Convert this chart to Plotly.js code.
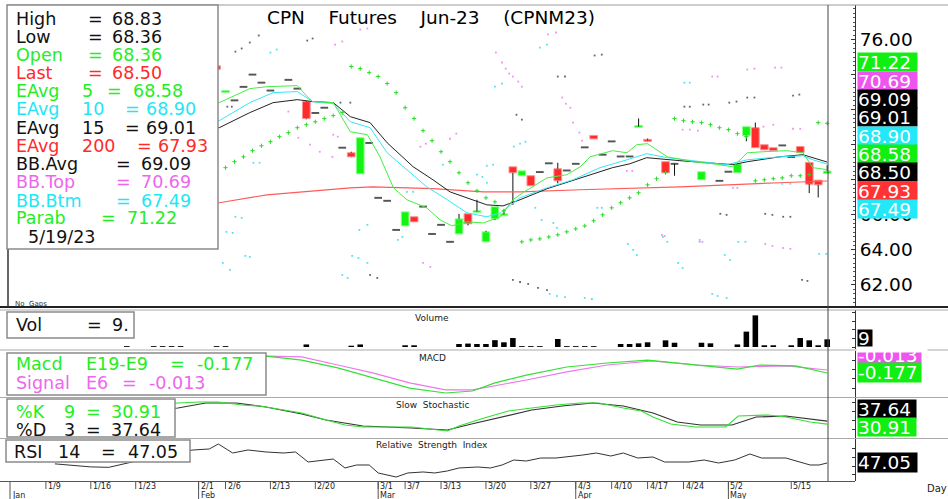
<!DOCTYPE html>
<html><head><meta charset="utf-8">
<script src="https://cdn.plot.ly/plotly-3.0.1.min.js"></script>
<style>html,body{margin:0;padding:0;background:#fff}#chart{width:948px;height:499px}</style>
</head><body><div id="chart"></div>
<script>
// ---------------- DATA (bar index k: 0 = 1/3/23 ... 91 = 5/19/23) ----------------
const tickIdx  = [4,9,14,21,24,29,34,41,44,48,53,58,63,67,71,75,80,87];
const tickText = ['1/9','1/16','1/23','2/1','2/6','2/13','2/20','3/1','3/7','3/13','3/20','3/27','4/3','4/10','4/17','4/24','5/2','5/15'];
const monthIdx = [0,21,41,63,80];
const monthText = ['Jan','Feb','Mar','Apr','May'];
const lastDate = '5/19/23';
const priceTicks = [62,64,66,68,70,72,74,76];
const priceTickText = ['62.00','64.00','66.00','','','','','76.00'];

const pre = Array(23).fill(null);
const O = pre.concat([74.5,73.0,72.53,73.3,74.0,73.54,73.09,null,73.7,73.2,
 72.46,71.81,72.11,null,69.83,69.54,68.34,70.1,66.97,66.8,
 65.14,65.37,65.89,66.47,64.91,65.43,64.46,64.91,66.06,66.17,
 64.46,65.77,65.97,68.74,68.23,68.23,68.44,68.94,68.63,68.53,
 68.91,69.85,70.53,69.43,70.19,69.33,69.33,71.03,70.28,null,
 69.03,68.91,null,null,68.0,null,67.94,68.46,68.4,70.51,
 70.97,70.0,69.83,69.96,69.3,69.9,68.99,67.98,68.36]);
const Hh = pre.concat([74.5,73.06,72.53,73.3,74.0,73.54,73.09,null,73.7,73.2,
 72.5,71.81,72.11,null,69.83,69.6,70.4,70.1,66.97,66.8,
 65.14,66.17,65.89,66.47,64.91,65.43,64.46,66.06,66.06,66.86,
 65.09,66.46,66.29,68.74,68.51,68.23,68.44,68.94,68.97,68.53,
 68.91,69.85,70.53,69.43,70.19,69.33,69.33,71.5,70.35,null,
 69.03,68.91,null,null,68.46,null,67.94,68.46,68.91,71.03,
 71.26,70.0,69.83,69.96,69.3,69.9,68.99,67.98,68.83]);
const Ll = pre.concat([74.3,73.0,72.53,73.3,74.0,73.54,73.09,null,73.7,73.2,
 71.45,71.81,72.11,null,69.83,69.29,68.34,70.1,66.97,66.8,
 65.14,65.37,65.6,66.47,64.91,65.43,64.46,64.91,65.4,66.17,
 64.46,65.7,65.97,66.57,68.23,67.66,68.44,68.94,67.8,68.53,
 68.91,69.85,70.33,69.43,70.19,69.33,69.33,71.03,70.2,null,
 68.4,68.23,null,null,68.0,null,67.94,68.46,68.4,70.2,
 69.83,69.71,69.66,69.96,69.3,69.56,67.24,66.99,68.36]);
const Cc = pre.concat([74.3,73.06,72.53,73.3,74.0,73.54,73.09,null,73.7,73.2,
 71.49,71.81,72.11,null,69.83,69.31,70.4,70.1,66.97,66.8,
 65.14,66.17,65.6,66.47,64.91,65.43,64.46,65.77,65.49,66.2,
 65.03,66.46,66.03,68.4,68.51,67.66,68.44,68.94,67.94,68.53,
 68.91,69.85,70.33,69.43,70.19,69.33,69.33,71.05,70.22,null,
 68.4,68.91,null,null,68.46,null,67.94,68.46,68.91,71.03,
 69.83,69.71,69.66,69.96,69.3,69.56,67.75,67.71,68.50]);

const volume = [0,0,0,0,0,0,0,0,0,0, 0,0,0,1,0,0,1,1,1,1, 0,0,0,1,1,0,0,0,0,0,
 0,0,0,3,0,0,0,0,1.5,3, 0,0,0,0,2,2,0,0,0,0, 3.5,4,3.5,3.5,8,5.5,10.5,1,1,1,
 0,9.4,1,1,1,1,0,0,3.5,3.5, 4.3,5.5,0,7.8,5,0,0,5,4.3,0, 0,3,18,37,2,2,0,2,10.5,7.8, 2,9];

// moving averages (k, value)
const ema5K = [0,23.3,26.7,28.6,32,33.1,33.7,36,37.9,39.8,41.2,42.7,44.2,46.4,47.9,49.2,50.9,52.7,54.6,56,57.1,59.8,62,63.5,64.6,67.1,68.7,69.8,71,73.2,76.1,78.3,80.5,82.1,83.9,86.5,88.3,89.4,91];
const ema5V = [73.0,72.4,73.2,73.31,73.37,72.74,72.46,72.4,70.74,70.57,69.31,67.54,66.86,66.4,65.71,65.37,65.6,65.54,65.89,66.86,67.26,68.11,68.29,68.74,69.31,69.66,69.54,70.0,70.06,69.31,69.03,68.91,68.74,69.54,69.6,69.66,69.54,68.69,68.58];
const ema10K = [0,23.3,26.7,29.3,32,33.7,36,37.9,40.1,42,44.2,46.4,48.7,50.9,53.1,54.6,56.8,59.8,62.7,65.7,68.7,70.9,73.2,76.1,79.8,82.1,85.7,88.3,89.4,91];
const ema10V = [72.6,71.37,72.4,72.97,73.03,72.46,72.34,71.31,70.97,69.54,68.57,67.6,66.86,66.11,65.89,66.11,66.97,67.54,68.0,68.69,69.14,69.49,69.26,69.09,68.86,69.14,69.31,69.37,69.14,68.90];
const ema15K = [0,23.3,26.7,29.3,32,33.7,36,37.9,40.1,42,44.9,47.1,49,51.6,53.1,54.9,56.8,59.8,63.5,67.1,69,70.9,74.6,78.3,80.5,82.1,85.7,88.3,89.4,91];
const ema15V = [72.2,70.97,71.83,72.4,72.57,72.46,72.4,71.6,71.26,70.11,68.74,68.0,67.31,66.86,66.57,66.51,66.86,67.49,68.11,68.69,68.91,69.26,69.09,68.97,68.86,69.03,69.31,69.43,69.26,69.01];
const ema200K = [0,23.3,28.6,32.3,37.9,40.4,47.1,52.7,56.8,63.5,74.6,85.7,91];
const ema200V = [66.0,66.69,67.14,67.31,67.54,67.6,67.49,67.31,67.31,67.43,67.6,67.83,67.93];

// Parabolic SAR (k, value)
const sarK = [24,25,26,27,28,29,30,31,32,33,34,35,36,37, 38,39,40,41,42,43,44,45,46,47,48,49,50,51,52,53,54,55,
 57,58,59,60,61,62,63,64,65,66,67,68,69,70,71,72,73, 74,75,76,77,78,79,80,81,82, 83,84,85,86,87,88,89, 90,91];
const sarV = [68.69,69.03,69.31,69.66,69.94,70.17,70.46,70.69,70.97,71.14,71.31,71.49,71.66,71.83,
 74.46,74.34,74.11,73.89,73.49,72.97,72.11,71.49,70.8,70.23,69.6,69.03,68.4,67.83,67.37,66.97,66.74,66.23,
 64.46,64.57,64.63,64.74,64.86,65.03,65.2,65.37,65.66,66.0,66.4,66.69,66.97,67.26,67.71,68.06,68.4,
 71.49,71.37,71.31,71.26,71.14,70.97,70.86,70.63,70.46,
 67.94,68.0,68.06,68.11,68.23,68.23,68.29, 71.26,71.22];

// band dots (k, value)
const magK = [31,32.1,33.4,34.5,35.9,36,36.5,36.2,37,39,39.8,45.7,46.3,46,46.8,49,49.7,54.1,54.8,55.2,55.6,56,56.6,57,59.9,60.8,61.5,61.9,62.4,62.7,63.4,63.7,68.7,69.3,72.6,72.9,74.9,75.7,76.6,76.8,77.1,78.2,78.8,80.5,81,82.1,82.9,83.9,85,85.2,85.9,84.1,84.9,86.1,86.9,87.2,88];
const magV = [71.89,70.4,70.0,69.6,69.31,70.57,70.46,75.71,75.89,76.57,76.63,69.89,70.06,63.26,63.03,70.34,70.63,75.26,74.69,74.34,74.06,73.89,73.6,73.31,76.29,76.4,72.69,72.34,72.11,71.26,70.69,70.23,68.51,68.51,64.86,64.8,70.86,70.86,70.8,64.57,64.46,73.89,73.89,67.54,67.54,74.29,74.34,71.03,71.14,74.4,74.4,64.34,64.23,64.11,64.06,70.91,70.91];
const cyaK = [24.1,24.8,25.1,25.8,27.1,27.8,29,29.7,23.7,24.5,26.2,26.7,38.1,38.8,39.8,37,37.6,38.9,39.8,43.2,43.7,44.2,44.9,48.2,52,52.6,53.1,53.1,53.8,54,54.8,56.1,56.8,57.4,58.5,59,59.8,59.2,60.5,60.9,60.1,60.9,61.8,64,64.8,65.4,65.9,68.8,69.4,69.8,72.7,73.2,74.4,74.9,75.1,75.7,76.8,78.2,78.8,79.6,79.8,80.2,81.1,81.9,86,86.9,90.1,90.9];
const cyaV = [65.03,64.97,65.89,65.83,68.97,68.97,75.26,75.43,63.26,62.86,63.66,63.6,63.66,63.54,63.26,62.57,62.4,65.14,65.43,64.57,64.74,67.31,67.31,68.86,68.29,68.17,67.83,68.8,68.86,73.31,73.49,69.89,70.06,70.17,66.4,75.54,75.71,65.71,65.54,65.26,61.49,61.37,61.31,61.26,61.2,66.4,66.4,64.34,64.0,63.71,64.74,64.46,63.26,62.97,73.54,73.54,64.46,61.49,61.37,63.71,61.26,63.43,64.46,64.46,67.77,67.77,63.77,63.77];
const blkK = [24.2,24.7,25.1,25.8,26.7,27.7,33.1,33.7,36.8,37.9,40.1,40.9,56,56.8,57.7,58.8,59.8,56.4,57,61,61.8,65.1,65.9,75.1,75.7,77.2,77.8,80.1,80.9,82.1,82.9,87.2,87.9,79.1,79.8,84.1,84.9,86.1,86.9,88.2,88.8];
const blkV = [72.17,72.17,75.31,75.49,75.83,76.23,75.94,76.06,72.4,72.4,62.57,62.4,62.29,62.17,62.06,61.83,61.71,71.71,71.43,73.89,73.89,75.09,75.14,72.17,72.17,72.29,72.29,72.4,72.46,72.69,72.69,72.8,72.86,66.06,66.0,66.06,66.0,65.89,65.89,62.29,62.23];

// MACD
const macdK = [18,24,28.5,32.5,36.5,40.5,44.5,48.5,51.5,54,57.5,62,66.5,71,76.5,81,83.5,87.5,91];
const macdV = [0.6,0.72,0.75,0.53,0.10,-0.45,-1.0,-1.27,-1.16,-0.72,-0.29,0.15,0.37,0.53,0.26,0.04,0.26,0.21,-0.177];
const sigK = [18,24,28.5,32.5,36.5,40.5,44.5,48.5,51.5,54,57.5,62,66.5,71.5,76.5,81,86.5,91];
const sigV = [0.55,0.7,0.75,0.70,0.26,-0.18,-0.72,-1.10,-1.10,-0.89,-0.56,-0.12,0.26,0.48,0.26,0.15,0.21,-0.013];
// Slow stochastic
const kK = [15,18.7,21.2,23.2,25.8,27.8,30.5,32.5,35.2,37.3,39.3,42,44.7,48.7,50,52.8,55.5,58.1,60.8,63.5,65.6,68.3,70.3,71.6,73.6,76.3,79.7,81.1,84.4,86.4,89.1,91];
const kV = [70,77.8,80,80,73.3,71.1,62.2,55.6,40,28.9,24.4,24.4,24.4,15.6,26.7,44.4,60,66.7,73.3,77.8,77.8,66.7,60,46.7,31.1,24.4,24.4,48.9,51.1,46.7,35.6,30.91];
const dK = [15,18.7,21.8,25.2,28.5,32.5,35.2,39.3,44.7,48.7,51.4,54.8,58.1,61.5,64.9,68.3,71.6,74.3,76.9,80.4,83.1,86.4,89.1,91];
const dV = [60,66.7,77.8,77.8,68.9,53.3,40,26.7,22.2,17.8,31.1,46.7,62.2,71.1,77.8,71.1,55.6,35.6,28.9,28.9,46.7,48.9,42.2,37.64];
// RSI
const rsiK = [5,9,11,15,18,20.4,22.2,23.2,24.8,26.5,28.5,30.5,31.8,33.2,36,37.3,38.6,40,41,43,44.3,46,47.3,48.7,50,52.1,53.5,54.8,56.1,57.5,59.1,60.8,62.1,63.8,65.3,66.9,68.3,69.9,71.6,72.9,75.6,77.3,78.9,80.7,82.4,83.7,86.4,87.7,89.1,90.1,91];
const rsiV = [45,38,37,55,70,77,79.3,90.8,70,77,72.4,70,72.4,49.3,56.2,35.5,42.4,42.4,24,14.7,24,26.3,24,28.6,35.5,37.8,35.5,42.4,53.9,51.6,58.5,58.5,60.8,65.4,70,63.1,70,58.5,60.8,49.3,49.3,53.9,47,53.9,67.7,58.5,58.5,51.6,42.4,42.4,47.05];

// ---------------- LAYOUT HELPERS ----------------
const W = 948, Hp = 499;
const FX = v => v / W, FY = v => 1 - v / Hp;
const FONT = 'DejaVu Sans, Arial, sans-serif';
const GREEN = '#22ee22', RED = '#ff2a2a', CYAN = '#22e6f5', MAG = '#ee66ee', BLK = '#111111';
const last = a => a[a.length - 1];
const n = O.length;

// candles
const up = {x: [], base: [], y: []}, dn = {x: [], base: [], y: []}, fl = {x: [], base: [], y: []};
const wx = [], wy = [];
for (let k = 0; k < n; k++) {
  if (O[k] == null) continue;
  const lo = Math.min(O[k], Cc[k]), hi = Math.max(O[k], Cc[k]);
  if (Ll[k] < lo - 1e-9) { wx.push(k, k, null); wy.push(Ll[k], lo, null); }
  if (Hh[k] > hi + 1e-9) { wx.push(k, k, null); wy.push(hi, Hh[k], null); }
  let tgt = Cc[k] > O[k] ? up : (Cc[k] < O[k] ? dn : fl);
  let b = lo, h = hi - lo;
  if (h < 0.11) { const m = (lo + hi) / 2; b = m - 0.055; h = 0.11; }
  tgt.x.push(k); tgt.base.push(b); tgt.y.push(h);
}
const volX = [], volY = [];
volume.forEach((v, k) => { if (v > 0) { volX.push(k); volY.push(v); } });

const traces = [
  {type: 'bar', x: up.x, y: up.y, base: up.base, width: 0.86, marker: {color: '#11f511', line: {color: '#8cff8c', width: 1}}, hoverinfo: 'skip'},
  {type: 'bar', x: dn.x, y: dn.y, base: dn.base, width: 0.86, marker: {color: RED, line: {color: '#ff9090', width: 1}}, hoverinfo: 'skip'},
  {type: 'bar', x: fl.x, y: fl.y, base: fl.base, width: 0.86, marker: {color: '#555555', line: {width: 0}}, hoverinfo: 'skip'},
  {type: 'scatter', mode: 'lines', x: wx, y: wy, line: {color: '#111', width: 1}, hoverinfo: 'skip'},
  {type: 'scatter', mode: 'lines', x: ema200K, y: ema200V, line: {color: '#ff5a5a', width: 1.2}},
  {type: 'scatter', mode: 'lines', x: ema15K, y: ema15V, line: {color: '#222', width: 1}},
  {type: 'scatter', mode: 'lines', x: ema10K, y: ema10V, line: {color: '#33e8f8', width: 1}},
  {type: 'scatter', mode: 'lines', x: ema5K, y: ema5V, line: {color: '#44ee44', width: 1}},
  {type: 'scatter', mode: 'markers', x: magK, y: magV, marker: {symbol: 'square', size: 1.8, color: '#f090f0'}},
  {type: 'scatter', mode: 'markers', x: cyaK, y: cyaV, marker: {symbol: 'square', size: 1.8, color: '#50e4f2'}},
  {type: 'scatter', mode: 'markers', x: blkK, y: blkV, marker: {symbol: 'square', size: 1.8, color: '#666'}},
  {type: 'scatter', mode: 'markers', x: sarK, y: sarV, marker: {symbol: 'cross-thin', size: 3, line: {width: 1, color: '#22dd22'}}},
  {type: 'bar', x: volX, y: volY, width: 0.62, yaxis: 'y2', marker: {color: '#000'}},
  {type: 'scatter', mode: 'lines', x: sigK, y: sigV, yaxis: 'y3', line: {color: '#ee77ee', width: 1.2}},
  {type: 'scatter', mode: 'lines', x: macdK, y: macdV, yaxis: 'y3', line: {color: '#33e033', width: 1.2}},
  {type: 'scatter', mode: 'lines', x: dK, y: dV, yaxis: 'y4', line: {color: '#333', width: 1.2}},
  {type: 'scatter', mode: 'lines', x: kK, y: kV, yaxis: 'y4', line: {color: '#33e033', width: 1.2}},
  {type: 'scatter', mode: 'lines', x: rsiK, y: rsiV, yaxis: 'y5', line: {color: '#333', width: 1}}
];

const AXPOS = 855 / W;
function yax(top, bot, range, extra) {
  return Object.assign({domain: [FY(bot), FY(top)], range: range, side: 'right', anchor: 'free', position: AXPOS,
    showline: true, linecolor: '#333', linewidth: 1, showgrid: false, zeroline: false, ticks: 'inside', ticklen: 3,
    tickcolor: '#333', showticklabels: false, fixedrange: true}, extra || {});
}

const layout = {
  width: W, height: Hp, margin: {l: 0, r: 0, t: 0, b: 0}, paper_bgcolor: '#fff', plot_bgcolor: 'rgba(0,0,0,0)',
  showlegend: false, barmode: 'overlay', hovermode: false,
  xaxis: {domain: [0, AXPOS], range: [-1.1136, 94.098], showgrid: false, zeroline: false, showticklabels: false, ticks: '', showline: false, fixedrange: true},
  yaxis: yax(5, 307, [60.743, 77.97], {tickmode: 'array', tickvals: priceTicks, ticktext: priceTickText, showticklabels: true, ticklen: 4,
     tickfont: {family: FONT, size: 18.5, color: '#000'}, minor: {dtick: 0.25, ticklen: 2, ticks: 'inside', tickcolor: '#555'}}),
  yaxis2: yax(310, 349, [-2.34, 43.3], {dtick: 10}),
  yaxis3: yax(351, 397, [-1.488, 1.025], {dtick: 0.5}),
  yaxis4: yax(398, 438, [0, 88.9], {dtick: 20}),
  yaxis5: yax(439, 481, [5.5, 102.3], {dtick: 20}),
  shapes: [], annotations: []
};

const S = layout.shapes, A = layout.annotations;
function hline(y, x0, x1, color, w) { S.push({type: 'line', xref: 'paper', yref: 'paper', x0: FX(x0), x1: FX(x1), y0: FY(y), y1: FY(y), line: {color: color, width: w}, layer: 'above'}); }
function vline(x, y0, y1, color, w) { S.push({type: 'line', xref: 'paper', yref: 'paper', x0: FX(x), x1: FX(x), y0: FY(y0), y1: FY(y1), line: {color: color, width: w}, layer: 'above'}); }
function box(x0, y0, x1, y1) { S.push({type: 'rect', xref: 'paper', yref: 'paper', x0: FX(x0), x1: FX(x1), y0: FY(y1), y1: FY(y0), fillcolor: '#fff', line: {color: '#8a8a8a', width: 1.5}, layer: 'above'}); }
function txt(x, y, s, color, size, anchor) {
  A.push({xref: 'paper', yref: 'paper', x: FX(x), y: FY(y), text: s, showarrow: false, xanchor: anchor || 'left', yanchor: 'middle',
    font: {family: FONT, size: size, color: color}, borderpad: 0});
}
function valBox(y0, h, w, s, bg) {
  A.push({xref: 'paper', yref: 'paper', x: FX(857), y: FY(y0 + h / 2), text: s, showarrow: false, xanchor: 'left', yanchor: 'middle',
    width: w, height: h, align: 'left', bgcolor: bg, borderpad: 0, font: {family: FONT, size: 18.5, color: '#fff'}});
}

// frames
hline(5, 7, 948, '#9a9a9a', 1);
hline(307, 0, 948, '#222', 2);
hline(310, 0, 948, '#aaa', 1);
hline(350, 0, 948, '#aaa', 1);
hline(397.5, 0, 948, '#aaa', 1);
hline(438.5, 0, 948, '#aaa', 1);
hline(481.5, 0, 855, '#555', 1);
vline(8, 5, 307, '#333', 1.5);
vline(828, 5, 481, '#444', 1);

// date axis (from the x scale)
tickIdx.forEach((k, i) => {
  S.push({type: 'line', xref: 'x', yref: 'paper', x0: k, x1: k, y0: FY(482), y1: FY(489), line: {color: '#555', width: 1}});
  A.push({xref: 'x', yref: 'paper', x: k, y: FY(486), text: tickText[i], showarrow: false, xanchor: 'left', yanchor: 'middle', xshift: 1,
    font: {family: FONT, size: 8, color: '#222'}, borderpad: 0});
});
monthIdx.forEach((k, i) => {
  S.push({type: 'line', xref: 'x', yref: 'paper', x0: k, x1: k, y0: FY(482), y1: FY(499), line: {color: '#555', width: 1}});
  A.push({xref: 'x', yref: 'paper', x: k, y: FY(495), text: monthText[i], showarrow: false, xanchor: 'left', yanchor: 'middle', xshift: 1,
    font: {family: FONT, size: 8, color: '#222'}, borderpad: 0});
});
txt(926, 488, 'Day', '#222', 10);

// title & panel titles
const nb4 = '\u00a0\u00a0\u00a0\u00a0';
txt(431, 17, 'CPN' + nb4 + 'Futures' + nb4 + 'Jun-23' + nb4 + '(CPNM23)', '#000', 18.5, 'center');
txt(432, 318, 'Volume', '#222', 9, 'center');
txt(432, 358, 'MACD', '#222', 9, 'center');
txt(432, 405, 'Slow\u00a0\u00a0Stochastic', '#222', 9, 'center');
txt(432, 445, 'Relative\u00a0\u00a0Strength\u00a0\u00a0Index', '#222', 9, 'center');
txt(14, 304, 'No\u00a0\u00a0Gaps', '#334', 7);

// main legend box
box(7, 5, 218, 249);
const f2 = v => v.toFixed(2);
const FS = 17.5;
const rows = [
  [19, [['High', 15], ['=', 87], [f2(Hh[n - 1]), 111]], BLK],
  [36.7, [['Low', 15], ['=', 87], [f2(Ll[n - 1]), 111]], BLK],
  [55, [['Open', 15], ['=', 87], [f2(O[n - 1]), 111]], GREEN],
  [72.7, [['Last', 15], ['=', 87], [f2(Cc[n - 1]), 111]], RED],
  [91, [['EAvg', 15], ['5', 81], ['=', 106], [f2(last(ema5V)), 132]], GREEN],
  [109.3, [['EAvg', 15], ['10', 81], ['=', 124], [f2(last(ema10V)), 145]], CYAN],
  [127.7, [['EAvg', 15], ['15', 81], ['=', 124], [f2(last(ema15V)), 145]], BLK],
  [145.7, [['EAvg', 15], ['200', 81], ['=', 136], [f2(last(ema200V)), 157]], RED],
  [164, [['BB.Avg', 15], ['=', 115], ['69.09', 140]], BLK],
  [182.3, [['BB.Top', 15], ['=', 115], ['70.69', 140]], MAG],
  [200.7, [['BB.Btm', 15], ['=', 115], ['67.49', 140]], CYAN],
  [218.3, [['Parab', 15], ['=', 100], [f2(last(sarV)), 126]], GREEN],
  [237.3, [[lastDate, 27]], BLK]
];
rows.forEach(r => r[1].forEach(t => txt(t[1], r[0], t[0], r[2], FS)));

// right value boxes (sorted by value)
const vals = [
  [last(sarV), '#11ee11'], [70.69, '#ee55ee'], [69.09, '#000'], [last(ema15V), '#000'], [last(ema10V), '#22e8f8'],
  [last(ema5V), '#11ee11'], [Cc[n - 1], '#000'], [last(ema200V), '#ff3333'], [67.49, '#22e8f8']
].sort((a, b) => b[0] - a[0]);
vals.forEach((v, i) => valBox(53.3 + i * 18.33, 18.33, 59, f2(v[0]), v[1]));

// volume legend
box(7, 312, 134, 338);
txt(15, 325, 'Vol', BLK, FS); txt(86, 325, '=', BLK, FS); txt(111, 325, last(volume) + '.', BLK, FS);
valBox(330, 17, 14, String(last(volume)), '#000');

// MACD legend
box(7, 353, 266, 395);
[['Macd', 15], ['E19-E9', 85], ['=', 169], [last(macdV).toFixed(3), 196]].forEach(t => txt(t[1], 364, t[0], GREEN, FS));
[['Signal', 15], ['E6', 85], ['=', 121], [last(sigV).toFixed(3), 148]].forEach(t => txt(t[1], 383, t[0], MAG, FS));
valBox(348, 15, 63, last(sigV).toFixed(3), '#ee55ee');
A.push({xref: 'paper', yref: 'paper', x: FX(855.5), y: FY(349.5), xanchor: 'left', yanchor: 'middle', text: '', showarrow: false, width: 70, height: 5, bgcolor: '#fff', borderpad: 0});
valBox(363, 18.5, 63, last(macdV).toFixed(3), '#11ee11');

// Stochastic legend
box(7, 399, 175, 437);
[['%K', 15], ['9', 63], ['=', 85], [f2(last(kV)), 110]].forEach(t => txt(t[1], 412, t[0], GREEN, FS));
[['%D', 15], ['3', 63], ['=', 85], [f2(last(dV)), 110]].forEach(t => txt(t[1], 430, t[0], BLK, FS));
valBox(400, 18, 58, f2(last(dV)), '#000');
valBox(418, 18, 58, f2(last(kV)), '#11ee11');

// RSI legend
box(6, 440, 190, 462);
[['RSI', 13], ['14', 57], ['=', 100], [f2(last(rsiV)), 127]].forEach(t => txt(t[1], 452, t[0], BLK, FS));
valBox(453, 19, 59, f2(last(rsiV)), '#000');

Plotly.newPlot('chart', traces, layout, {staticPlot: true, displayModeBar: false});
</script>
</body></html>
